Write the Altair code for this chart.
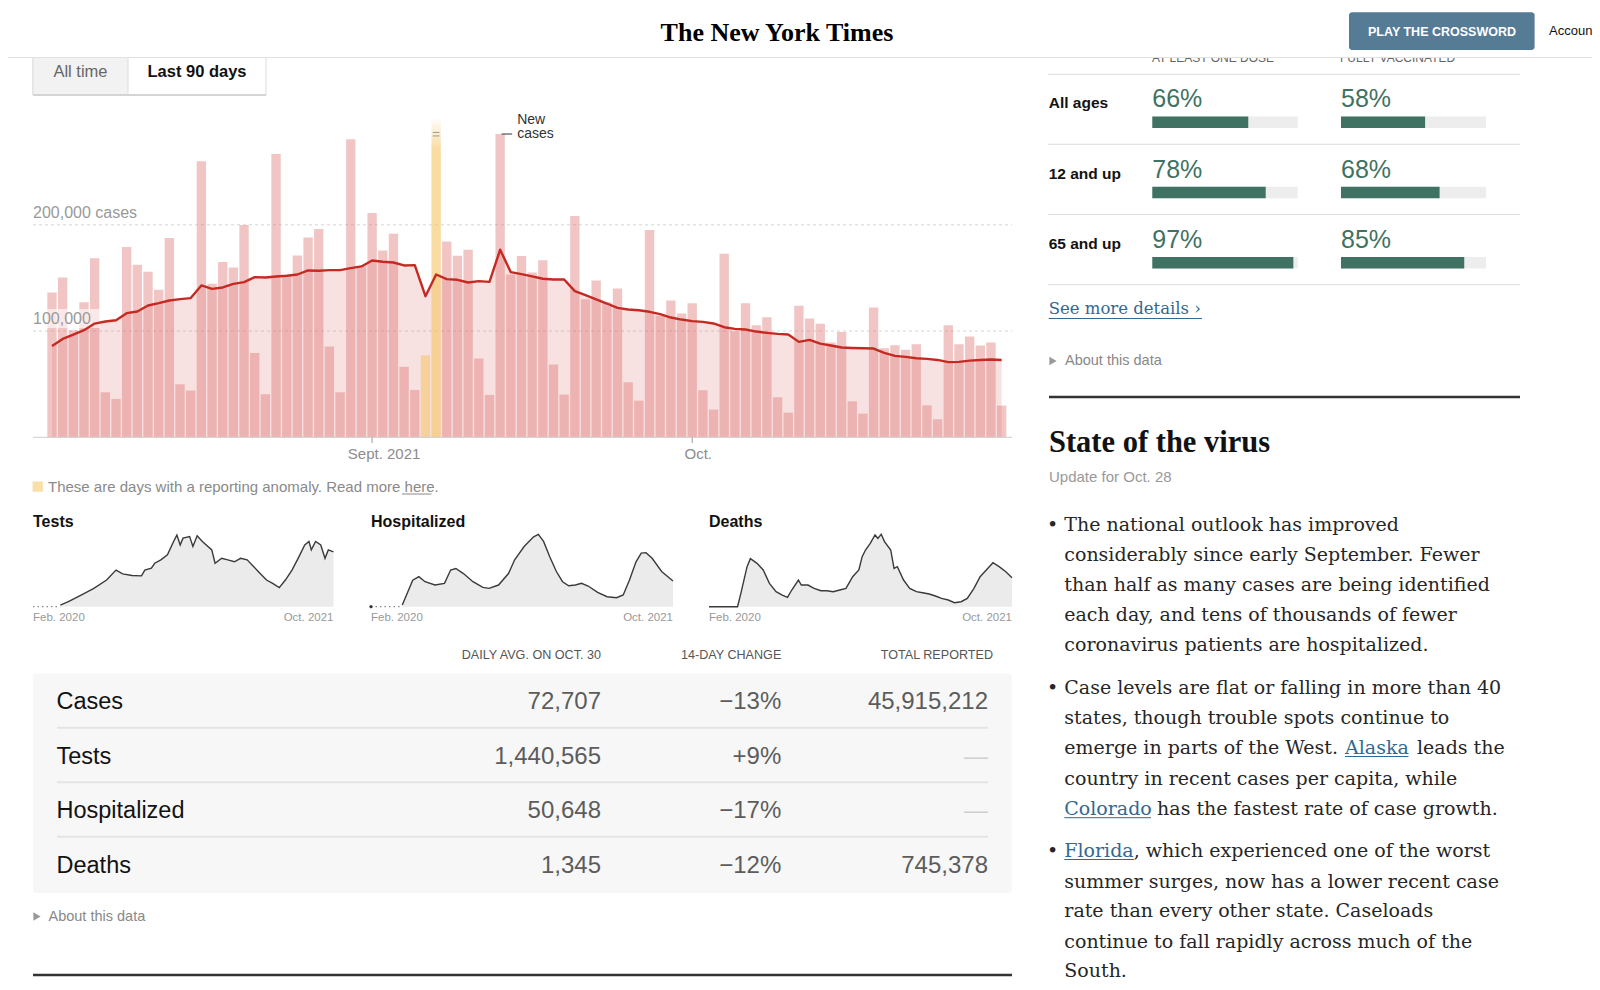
import altair as alt
import pandas as pd

# ------------------------------------------------------------------ data
dates = pd.date_range("2021-08-02", "2021-10-30", freq="D").strftime("%Y-%m-%d").tolist()
cases = [136300, 150400, 100800, 127000, 168600, 42400, 36100, 179000, 162300, 155700,
         138800, 187500, 49900, 44000, 259700, 144400, 164900, 159800, 199700, 79400,
         40500, 266600, 152000, 171000, 188000, 196000, 85400, 42400, 280400, 161000,
         211000, 175800, 191500, 66300, 44600, 77200, 301000, 184300, 170800, 176500,
         74100, 39900, 285400, 153200, 170500, 155100, 166700, 68500, 40200, 208200,
         130000, 147600, 127000, 140000, 51800, 34500, 195000, 114300, 128700, 116500,
         126200, 44300, 26100, 172700, 99900, 126200, 105500, 113000, 37700, 23200,
         123700, 111800, 106800, 89200, 99200, 33900, 22300, 122100, 83800, 86700,
         82300, 87600, 30100, 17000, 105500, 87600, 94800, 86400, 89200, 29800]
avg7 = [86000, 92600, 96700, 100800, 107000, 109000, 110200, 116800, 118400, 124000,
        126200, 128700, 130000, 131000, 142900, 139700, 141000, 144400, 146000, 150700,
        150400, 151300, 152000, 153200, 157000, 156700, 157300, 157300, 159200, 160800,
        166400, 165200, 164500, 161700, 162000, 132800, 153200, 148800, 148200, 145700,
        147000, 146300, 176500, 155400, 153500, 151500, 149200, 148500, 148500, 137500,
        133800, 129700, 125900, 121800, 120300, 119600, 118100, 115900, 112700, 110800,
        109300, 108600, 107100, 103600, 102000, 101400, 99500, 98300, 97300, 96700,
        89800, 91700, 88200, 86400, 84500, 84100, 83800, 83500, 79400, 76600,
        75700, 74400, 73800, 72800, 70700, 71000, 72200, 72800, 73200, 72700]
anomaly_dates = ["2021-09-06", "2021-09-07"]
tick_dates = ["2021-09-01", "2021-10-01"]
tick_labels = ["Sept. 2021", "Oct."]
grid_values = [100000, 200000]
grid_labels = ["100,000", "200,000 cases"]
annotation_date = "2021-09-13"
annotation_lines = ["New", "cases"]

# sparklines: day offset from Feb. 1, 2020 and 7-day average
tests_day = [58, 75, 102, 129, 156, 176, 190, 210, 230, 237, 251, 258, 271, 285, 298,
             305, 312, 318, 332, 339, 348, 359, 379, 386, 400, 413, 427, 440, 454, 468,
             481, 495, 508, 522, 535, 549, 562, 576, 585, 590, 599, 610, 619, 626, 637]
tests_val = [0.044, 0.131, 0.306, 0.48, 0.70, 0.96, 0.86, 0.82, 0.81, 0.96, 1.01, 1.14,
             1.23, 1.36, 1.71, 1.88, 1.62, 1.80, 1.84, 1.58, 1.86, 1.71, 1.49, 1.14, 1.27,
             1.23, 1.18, 1.27, 1.23, 1.05, 0.88, 0.70, 0.61, 0.50, 0.70, 0.96, 1.27, 1.62,
             1.71, 1.49, 1.71, 1.62, 1.27, 1.49, 1.44]  # millions
hosp_day = [66, 88, 101, 114, 135, 155, 168, 179, 195, 215, 236, 249, 269, 290, 303,
            323, 343, 353, 364, 377, 391, 404, 417, 431, 444, 458, 478, 498, 518, 532,
            545, 559, 570, 580, 593, 613, 637]
hosp_val = [3.3, 52, 59, 49, 42.5, 45.8, 72, 75, 65, 49, 38, 36, 42.5, 65, 92, 118, 137,
            142, 128, 98, 69, 49, 41, 42.5, 45.8, 40.6, 28, 19.6, 17.7, 22.9, 52, 88, 105,
            106, 95, 69, 50.4]  # thousands
deaths_day = [0, 60, 67, 80, 87, 101, 114, 127, 141, 154, 165, 174, 188, 194, 208, 221,
              235, 248, 261, 275, 288, 302, 315, 322, 329, 339, 349, 355, 362, 369, 382,
              389, 396, 409, 422, 436, 449, 463, 476, 489, 503, 516, 530, 543, 557, 570,
              583, 597, 610, 624, 637]
deaths_val = [0, 0, 619, 1858, 2229, 2012, 1703, 1084, 697, 542, 433, 774, 1238, 1006,
              1006, 851, 743, 743, 697, 774, 851, 1393, 1703, 2322, 2632, 2941, 3328, 3173,
              3359, 3019, 2632, 1780, 1858, 1238, 851, 697, 650, 588, 495, 387, 310, 186,
              232, 387, 851, 1393, 1703, 2043, 1858, 1625, 1347]
spark_titles = ["Tests", "Hospitalized", "Deaths"]
spark_start, spark_end = "Feb. 2020", "Oct. 2021"

# table
table_headers = ["DAILY AVG. ON OCT. 30", "14-DAY CHANGE", "TOTAL REPORTED"]
table_rows = ["Cases", "Tests", "Hospitalized", "Deaths"]
table_daily = ["72,707", "1,440,565", "50,648", "1,345"]
table_change = ["\u221213%", "+9%", "\u221217%", "\u221212%"]
table_total = ["45,915,212", "\u2014", "\u2014", "745,378"]

# vaccinations
vax_headers = ["AT LEAST ONE DOSE", "FULLY VACCINATED"]
vax_groups = ["All ages", "12 and up", "65 and up"]
vax_one = [66, 78, 97]
vax_full = [58, 68, 85]

# text panel
bullet1 = ["The national outlook has improved",
           "considerably since early September. Fewer",
           "than half as many cases are being identified",
           "each day, and tens of thousands of fewer",
           "coronavirus patients are hospitalized."]
bullet2 = ["Case levels are flat or falling in more than 40",
           "states, though trouble spots continue to",
           [("emerge in parts of the West.", False), ("Alaska", True), ("leads the", False)],
           "country in recent cases per capita, while",
           [("Colorado", True), ("has the fastest rate of case growth.", False)]]
bullet3 = [[("Florida", True), (", which experienced one of the worst", False)],
           "summer surges, now has a lower recent case",
           "rate than every other state. Caseloads",
           "continue to fall rapidly across much of the",
           "South."]

# ------------------------------------------------------------------ helpers
W, H = 1584, 972
SANS = "Liberation Sans"
SERIF = "Liberation Serif"
BODY = "DejaVu Serif"


def px(v):
    return v - 8


ONE = pd.DataFrame({"k": [0]})


def text(t, x, y, size, color="#333333", font=SANS, weight="normal", align="left",
         baseline="middle"):
    return alt.Chart(pd.DataFrame({"t": [t]})).mark_text(
        align=align, baseline=baseline, font=font, fontSize=size, fontWeight=weight,
        color=color).encode(x=alt.value(px(x)), y=alt.value(px(y)), text="t:N")


def rule(x1, y1, x2, y2, color, width=1.0, dash=None):
    kw = dict(color=color, strokeWidth=width)
    if dash:
        kw["strokeDash"] = dash
    return alt.Chart(ONE).mark_rule(**kw).encode(
        x=alt.value(px(x1)), y=alt.value(px(y1)), x2=alt.value(px(x2)), y2=alt.value(px(y2)))


def box(x1, y1, x2, y2, fill, stroke=None, sw=1.0, radius=0, opacity=1.0):
    kw = dict(fill=fill, opacity=opacity)
    if radius:
        kw["cornerRadius"] = radius
    if stroke:
        kw.update(stroke=stroke, strokeWidth=sw)
    else:
        kw.update(strokeWidth=0)
    return alt.Chart(ONE).mark_rect(**kw).encode(
        x=alt.value(px(x1)), y=alt.value(px(y1)), x2=alt.value(px(x2)), y2=alt.value(px(y2)))


def tri(x, y, color="#999999"):
    return alt.Chart(ONE).mark_point(shape="triangle-right", filled=True, size=70,
                                     color=color, opacity=1).encode(
        x=alt.value(px(x)), y=alt.value(px(y)))


layers = []

# ------------------------------------------------------------------ main chart
df = pd.DataFrame({"date": dates, "cases": cases, "avg": avg7})
df["day"] = range(1, len(df) + 1)
df["lo"] = df["day"] - 0.5
df["hi"] = df["day"] + 0.5
df["zero"] = 0
df["anom"] = df["date"].isin(anomaly_dates)

xs = alt.Scale(domain=[-0.78, 90.97], range=[px(33), px(1012)], nice=False, zero=False)
ys = alt.Scale(domain=[0, 308000], range=[px(437.3), px(110)], nice=False, zero=False)


def X(f):
    return alt.X(f, scale=xs, axis=None)


def Y(f):
    return alt.Y(f, scale=ys, axis=None)


grid = alt.Chart(pd.DataFrame({"v": grid_values})).mark_rule(
    color="#d6d6d6", strokeDash=[3, 3]).encode(
    y=Y("v:Q"), x=alt.value(px(33)), x2=alt.value(px(1012)))
area = alt.Chart(df).mark_area(color="#cf4b4b", opacity=0.17).encode(
    x=X("day:Q"), y=Y("avg:Q"))
bars = alt.Chart(df[~df["anom"]]).mark_bar(
    color="#e07575", opacity=0.42, xOffset=0.65, x2Offset=-0.65).encode(
    x=X("lo:Q"), x2="hi:Q", y=Y("cases:Q"), y2="zero:Q")
an1 = df[df["date"] == anomaly_dates[0]]
an2 = df[df["date"] == anomaly_dates[1]]
abar1 = alt.Chart(an1).mark_bar(
    color="#f5c462", opacity=0.55, xOffset=0.65, x2Offset=-0.65).encode(
    x=X("lo:Q"), x2="hi:Q", y=Y("cases:Q"), y2="zero:Q")
grad = alt.Gradient(gradient="linear",
                    stops=[alt.GradientStop(color="#ffffff", offset=0),
                           alt.GradientStop(color="#f5c462", offset=0.1)],
                    x1=1, x2=1, y1=0, y2=1)
abar2 = alt.Chart(an2).mark_bar(
    color=grad, opacity=0.6, xOffset=0.65, x2Offset=-0.65).encode(
    x=X("lo:Q"), x2="hi:Q", y=Y("cases:Q"), y2="zero:Q")
brk1 = alt.Chart(an2).mark_rule(color="#999999", xOffset=2, x2Offset=-2, yOffset=15).encode(
    x=X("lo:Q"), x2="hi:Q", y=Y("cases:Q"))
brk2 = alt.Chart(an2).mark_rule(color="#999999", xOffset=2, x2Offset=-2, yOffset=18.5).encode(
    x=X("lo:Q"), x2="hi:Q", y=Y("cases:Q"))
labbox = box(33, 309, 100, 328, "#ffffff", opacity=0.6)
line = alt.Chart(df).mark_line(color="#c52a22", strokeWidth=2.4, strokeJoin="round").encode(
    x=X("day:Q"), y=Y("avg:Q"))
base = alt.Chart(pd.DataFrame({"v": [0]})).mark_rule(color="#cccccc").encode(
    y=Y("v:Q"), x=alt.value(px(33)), x2=alt.value(px(1012)))
glabels = alt.Chart(pd.DataFrame({"v": grid_values, "t": grid_labels})).mark_text(
    align="left", baseline="alphabetic", dy=-7, fontSize=16, color="#999999", font=SANS).encode(
    y=Y("v:Q"), x=alt.value(px(33)), text="t:N")

tdf = pd.DataFrame({"date": tick_dates, "t": tick_labels})
tdf = tdf.merge(df[["date", "day"]], on="date")
tickr = alt.Chart(tdf).mark_rule(color="#999999").encode(
    x=X("day:Q"), y=alt.value(px(437.3)), y2=alt.value(px(443)))
tick1 = alt.Chart(tdf.iloc[[0]]).mark_text(
    align="center", baseline="middle", dx=12, fontSize=15, color="#8c8c8c", font=SANS).encode(
    x=X("day:Q"), y=alt.value(px(454)), text="t:N")
tick2 = alt.Chart(tdf.iloc[[1]]).mark_text(
    align="center", baseline="middle", dx=6, fontSize=15, color="#8c8c8c", font=SANS).encode(
    x=X("day:Q"), y=alt.value(px(454)), text="t:N")

ann = df[df["date"] == annotation_date].copy()
ann_new = ann.assign(t=annotation_lines[0])
ann_cases = ann.assign(t=annotation_lines[1])
annrule = alt.Chart(ann).mark_rule(color="#333333", xOffset=1.5, x2Offset=12).encode(
    x=X("day:Q"), x2="day:Q", y=Y("cases:Q"))
anntxt1 = alt.Chart(ann_new).mark_text(
    align="left", baseline="middle", dx=17, dy=-14.5, fontSize=14, color="#333333", font=SANS).encode(
    x=X("day:Q"), y=Y("cases:Q"), text="t:N")
anntxt2 = alt.Chart(ann_cases).mark_text(
    align="left", baseline="middle", dx=17, dy=0, fontSize=14, color="#333333", font=SANS).encode(
    x=X("day:Q"), y=Y("cases:Q"), text="t:N")

layers += [grid, area, bars, abar1, abar2, brk1, brk2, labbox, line, base, glabels,
           tickr, tick1, tick2, annrule, anntxt1, anntxt2]

# anomaly note
layers += [box(32.6, 481.6, 42.9, 491.8, "#f5c462", opacity=0.55),
           text("These are days with a reporting anomaly. Read more here.", 48, 487, 15,
                color="#8a8a8a"),
           rule(402, 494, 431.5, 494, "#8a8a8a", 1)]

# buttons
layers += [box(33, 57, 266, 95, "#ffffff", stroke="#dddddd"),
           box(33, 57, 128, 95, "#f2f2f2", stroke="#dddddd"),
           rule(33, 95, 266, 95, "#d4d4d4", 2),
           text("All time", 80.5, 72, 16.5, color="#666666", align="center"),
           text("Last 90 days", 197, 72, 16.5, color="#121212", weight="bold", align="center")]


# ------------------------------------------------------------------ sparklines
def spark(days, vals, x0, x1, vmax, title, dotted=False, dot=False):
    sx = alt.Scale(domain=[0, 637], range=[px(x0), px(x1)], nice=False, zero=False)
    sy = alt.Scale(domain=[0, vmax], range=[px(606.7), px(534.3)], nice=False, zero=False)
    d = pd.DataFrame({"d": days, "v": vals})
    out = []
    if dotted:
        dd = pd.DataFrame({"a": [0], "b": [days[0]], "v": [0]})
        out.append(alt.Chart(dd).mark_rule(color="#888888", strokeDash=[1.5, 3], strokeWidth=1.3).encode(
            x=alt.X("a:Q", scale=sx, axis=None), x2="b:Q", y=alt.Y("v:Q", scale=sy, axis=None)))
    if dot:
        dd = pd.DataFrame({"a": [0], "v": [0]})
        out.append(alt.Chart(dd).mark_point(filled=True, size=10, color="#333333", opacity=1).encode(
            x=alt.X("a:Q", scale=sx, axis=None), y=alt.Y("v:Q", scale=sy, axis=None)))
    out.append(alt.Chart(d).mark_area(color="#ebebeb").encode(
        x=alt.X("d:Q", scale=sx, axis=None), y=alt.Y("v:Q", scale=sy, axis=None)))
    out.append(alt.Chart(d).mark_line(color="#3a3a3a", strokeWidth=1.4).encode(
        x=alt.X("d:Q", scale=sx, axis=None), y=alt.Y("v:Q", scale=sy, axis=None)))
    out.append(text(title, x0, 521.5, 16, color="#121212", weight="bold"))
    out.append(text(spark_start, x0, 617.7, 11.5, color="#999999"))
    out.append(text(spark_end, x1, 617.7, 11.5, color="#999999", align="right"))
    return out


layers += spark(tests_day, tests_val, 33, 333.5, 1.9, spark_titles[0], dotted=True)
layers += spark(hosp_day, hosp_val, 371, 673, 142, spark_titles[1], dotted=True, dot=True)
layers += spark(deaths_day, deaths_val, 709, 1012, 3360, spark_titles[2])

# ------------------------------------------------------------------ table
layers += [text(table_headers[0], 601, 655, 12.6, color="#555555", align="right"),
           text(table_headers[1], 781.3, 655, 12.6, color="#555555", align="right"),
           text(table_headers[2], 993, 655, 12.6, color="#555555", align="right"),
           box(33, 673.5, 1012, 893, "#f7f7f7", radius=3)]
tb = pd.DataFrame({"r": range(len(table_rows)), "label": table_rows, "daily": table_daily,
                   "change": table_change, "total": table_total})
rs = alt.Scale(domain=[0, 3], range=[px(702.3), px(865.7)], nice=False, zero=False)
RY = alt.Y("r:Q", scale=rs, axis=None)
layers += [
    alt.Chart(tb[tb["r"] < 3]).mark_rule(color="#e4e4e4", strokeWidth=2, yOffset=25.5).encode(
        y=RY, x=alt.value(px(57)), x2=alt.value(px(988))),
    alt.Chart(tb).mark_text(align="left", baseline="middle", fontSize=23.5, color="#121212",
                            font=SANS).encode(y=RY, x=alt.value(px(56.5)), text="label:N"),
    alt.Chart(tb).mark_text(align="right", baseline="middle", fontSize=24, color="#5c5c5c",
                            font=SANS).encode(y=RY, x=alt.value(px(601)), text="daily:N"),
    alt.Chart(tb).mark_text(align="right", baseline="middle", fontSize=24, color="#5c5c5c",
                            font=SANS).encode(y=RY, x=alt.value(px(781.3)), text="change:N"),
    alt.Chart(tb[tb["total"] != "\u2014"]).mark_text(
        align="right", baseline="middle", fontSize=24, color="#5c5c5c", font=SANS).encode(
        y=RY, x=alt.value(px(988)), text="total:N"),
    alt.Chart(tb[tb["total"] == "\u2014"]).mark_text(
        align="right", baseline="middle", fontSize=24, color="#d0d0d0", font=SANS).encode(
        y=RY, x=alt.value(px(988)), text="total:N"),
]
layers += [tri(37, 916.5), text("About this data", 48.5, 916.5, 14.5, color="#888888"),
           rule(33, 975, 1012, 975, "#333333", 2.5)]

# ------------------------------------------------------------------ vaccinations
vdf = pd.DataFrame({"row": range(len(vax_groups)), "group": vax_groups,
                    "one": vax_one, "full": vax_full})
vdf["one_t"] = vdf["one"].astype(str) + "%"
vdf["full_t"] = vdf["full"].astype(str) + "%"
vdf["zero"] = 0
vdf["hundred"] = 100
vy = alt.Scale(domain=[0, 2], range=[px(122.3), px(262.7)], nice=False, zero=False)
VY = alt.Y("row:Q", scale=vy, axis=None)
GREEN = "#3f7262"
layers += [text(vax_headers[0], 1152, 61.5, 12, color="#666666", baseline="alphabetic"),
           text(vax_headers[1], 1340, 61.5, 12, color="#666666", baseline="alphabetic")]
layers += [
    alt.Chart(vdf[vdf["row"] == 0]).mark_rule(color="#dddddd", yOffset=-48).encode(
        y=VY, x=alt.value(px(1048)), x2=alt.value(px(1520))),
    alt.Chart(vdf).mark_rule(color="#dddddd", yOffset=22).encode(
        y=VY, x=alt.value(px(1048)), x2=alt.value(px(1520))),
    alt.Chart(vdf).mark_text(align="left", baseline="middle", dy=-19, fontSize=15.5,
                             fontWeight="bold", color="#121212", font=SANS).encode(
        y=VY, x=alt.value(px(1048.7)), text="group:N"),
]
for col, lab, r0, r1 in [("one", "one_t", 1152.3, 1297.7), ("full", "full_t", 1341, 1486)]:
    vx = alt.Scale(domain=[0, 100], range=[px(r0), px(r1)], nice=False, zero=False)
    VX = alt.X("zero:Q", scale=vx, axis=None)
    layers += [
        alt.Chart(vdf).mark_rule(color="#ededed", strokeWidth=11.5, strokeCap="butt").encode(
            x=VX, x2="hundred:Q", y=VY),
        alt.Chart(vdf).mark_rule(color=GREEN, strokeWidth=11.5, strokeCap="butt").encode(
            x=VX, x2=f"{col}:Q", y=VY),
        alt.Chart(vdf).mark_text(align="left", baseline="middle", dy=-23, fontSize=25,
                                 color=GREEN, font=SANS).encode(x=VX, y=VY, text=f"{lab}:N"),
    ]
layers += [text("See more details \u203a", 1048.7, 309.3, 16.5, color="#326891", font=BODY),
           rule(1048.7, 318.5, 1202, 318.5, "#326891", 1),
           tri(1053, 361), text("About this data", 1065, 361, 14.5, color="#888888")]

# ------------------------------------------------------------------ state of the virus
layers += [rule(1049, 397, 1520, 397, "#333333", 2.5),
           text("State of the virus", 1049, 443, 30.5, color="#121212", font=SERIF, weight="bold"),
           text("Update for Oct. 28", 1049, 476.5, 15, color="#999999")]
line_y = [[524.5, 555, 584.7, 615.3, 645],
          [687.8, 718.4, 748, 778.6, 809.2],
          [851, 881.6, 911.2, 941.8, 971.4]]
seg_x = {(1, 2): [1064.3, 1345, 1417], (1, 4): [1064.3, 1157.1], (2, 0): [1064.3, 1133.7]}
link_end = {(1, 2): 1408.5, (1, 4): 1151, (2, 0): 1134}
BODY_SIZE = 19
BODY_COLOR = "#262626"
for bi, bullet in enumerate([bullet1, bullet2, bullet3]):
    layers.append(text("\u2022", 1052.5, line_y[bi][0], BODY_SIZE, color=BODY_COLOR,
                       font=BODY, align="center"))
    for li, ln in enumerate(bullet):
        y = line_y[bi][li]
        if isinstance(ln, str):
            layers.append(text(ln, 1064.3, y, BODY_SIZE, color=BODY_COLOR, font=BODY))
        else:
            for (seg, is_link), sx in zip(ln, seg_x[(bi, li)]):
                layers.append(text(seg, sx, y, BODY_SIZE, font=BODY,
                                   color="#326891" if is_link else BODY_COLOR))
                if is_link:
                    layers.append(rule(sx, y + 8.5, link_end[(bi, li)], y + 8.5, "#326891", 1))

# ------------------------------------------------------------------ header
layers += [box(0, 0, 1600, 57, "#ffffff"),
           rule(0, 57.5, 1600, 57.5, "#e2e2e2", 1),
           text("The New York Times", 777, 33, 26, color="#000000", font=SERIF,
                weight="bold", align="center"),
           box(1349, 12.2, 1534.6, 50, "#567b95", radius=3),
           text("PLAY THE CROSSWORD", 1442, 31.5, 12.5, color="#ffffff", weight="bold",
                align="center"),
           text("Accoun", 1549, 31, 13, color="#121212")]

chart = alt.layer(*layers).resolve_scale(
    x="independent", y="independent"
).properties(
    width=W, height=H, autosize="none", padding=0
).configure_view(stroke=None)

chart.save("out.html", embed_options={"renderer": "svg", "actions": False})
